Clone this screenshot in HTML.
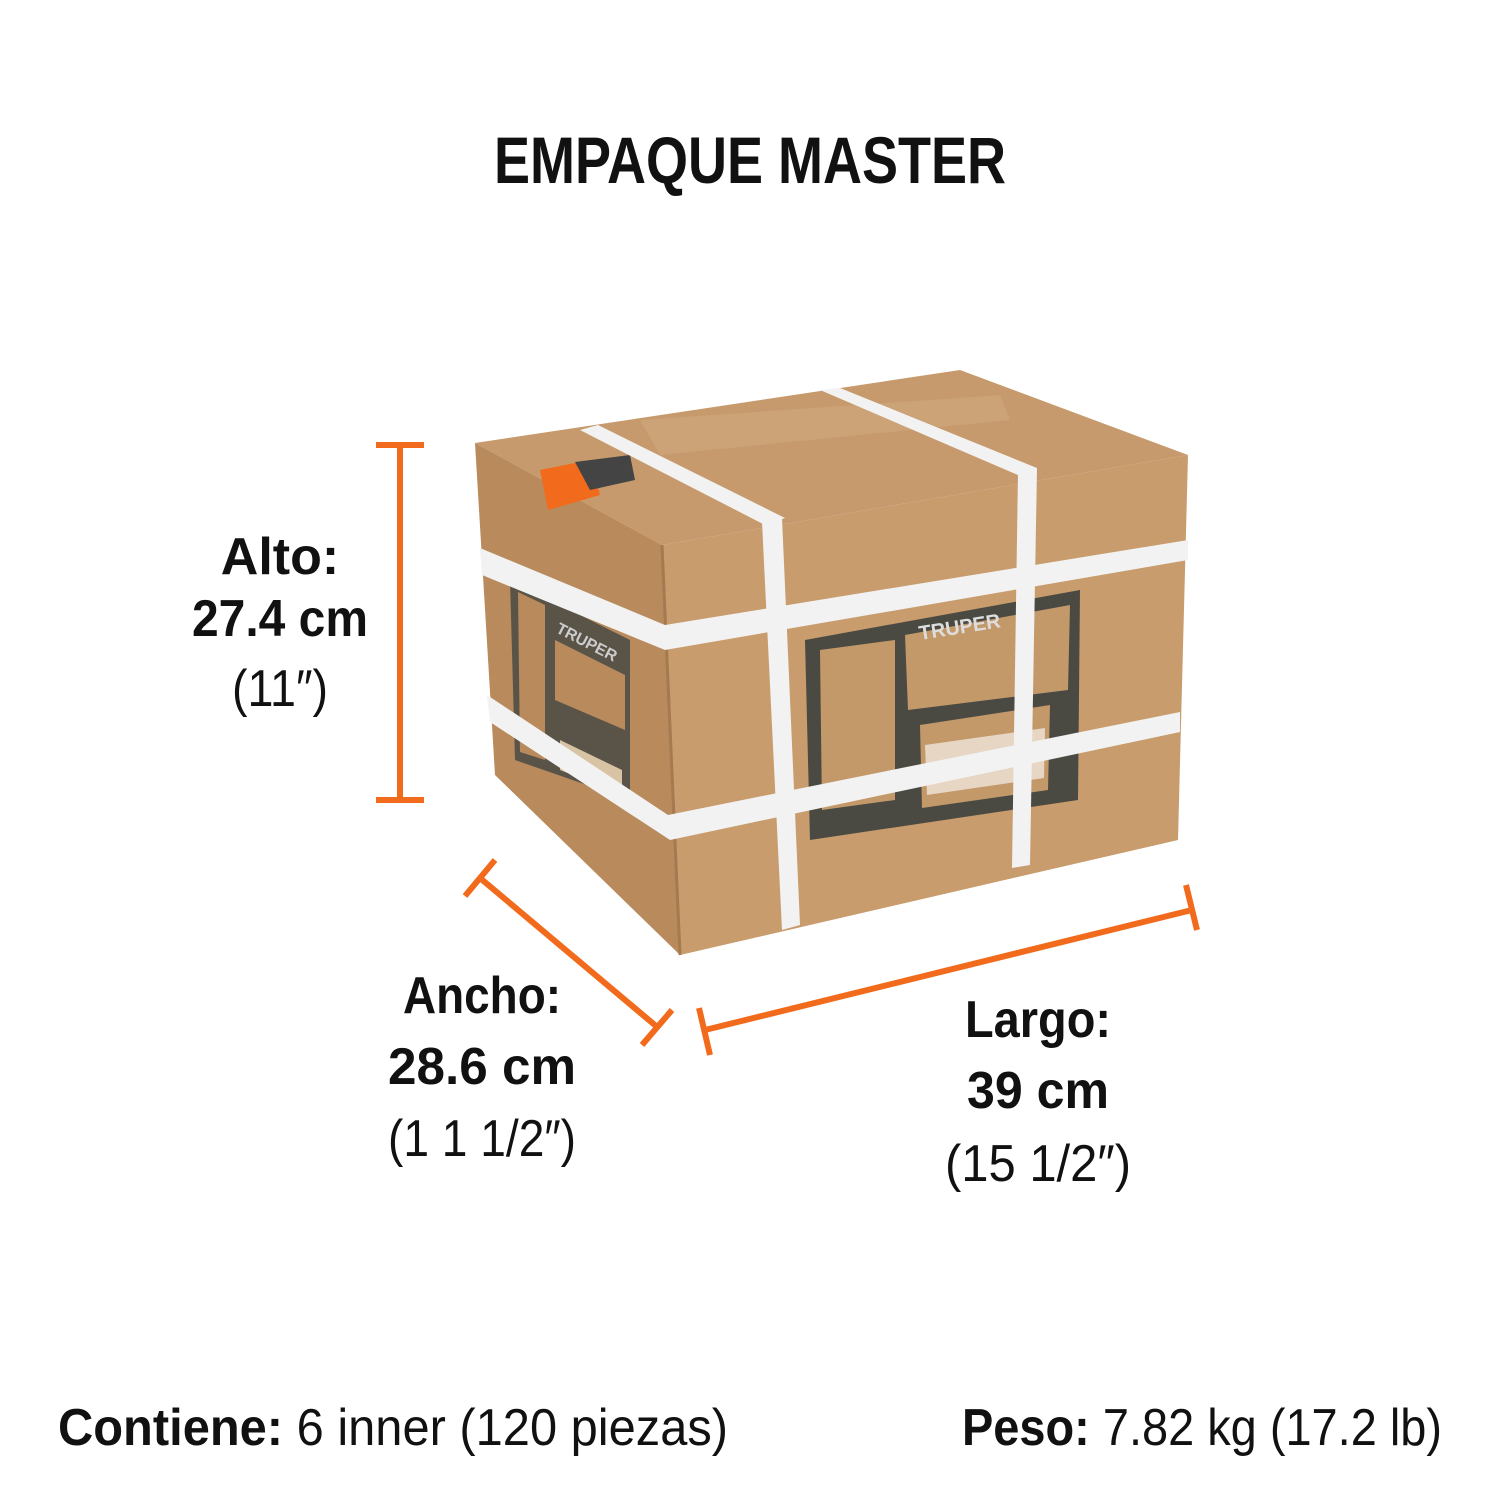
<!DOCTYPE html>
<html><head><meta charset="utf-8"><style>html,body{margin:0;padding:0;background:#fff}svg{display:block}</style></head><body>
<svg width="1500" height="1500" viewBox="0 0 1500 1500" xmlns="http://www.w3.org/2000/svg" font-family="'Liberation Sans Narrow','Liberation Sans',sans-serif">
<rect width="1500" height="1500" fill="#fff"/>
<text x="750" y="183" text-anchor="middle" font-size="66" font-weight="bold" textLength="512" lengthAdjust="spacingAndGlyphs" fill="#111">EMPAQUE MASTER</text>
<!-- box -->
<polygon points="475,443 960,370 1188,455 662,545" fill="#c69a6c"/>
<polygon points="662,545 1188,455 1178,840 680,955" fill="#c89c6c"/>
<polygon points="475,443 662,545 680,955 495,775" fill="#b88a5c"/>
<line x1="662" y1="545" x2="680" y2="955" stroke="#a57a50" stroke-width="3"/>
<polygon points="640,420 1000,395 1010,420 660,455" fill="#cda57a" opacity="0.8"/>
<!-- labels -->
<polygon points="805,640 1080,590 1078,800 810,840" fill="#4a4a42"/>
<polygon points="905,635 1070,605 1068,690 908,710" fill="#c3996a"/>
<polygon points="920,725 1050,705 1048,790 922,808" fill="#c3996a"/>
<polygon points="925,745 1045,728 1044,778 927,795" fill="#fff" opacity="0.6"/>
<polygon points="820,650 895,640 895,800 822,810" fill="#c3996a"/>
<text x="920" y="640" font-size="20" font-weight="bold" fill="#ddd" transform="rotate(-9 920 640)">TRUPER</text>
<polygon points="510,580 630,640 630,800 515,760" fill="#5a5448"/>
<polygon points="518,592 545,605 545,760 520,752" fill="#b88a5c"/>
<polygon points="555,640 625,675 625,730 555,700" fill="#b88a5c"/>
<polygon points="560,740 622,770 622,795 560,770" fill="#d9c3a5"/>
<text x="555" y="632" font-size="16" font-weight="bold" fill="#ccc" transform="rotate(27 555 632)">TRUPER</text>
<polygon points="540,470 590,460 600,495 548,510" fill="#f26a1b"/>
<polygon points="575,462 630,455 635,480 590,490" fill="#444"/>
<!-- straps -->
<g fill="#f2f2f2">
<polygon points="580,430 598,425 785,518 765,525"/>
<polygon points="820,390 840,388 1037,468 1018,475"/>
<polygon points="762,522 782,518 800,925 782,930"/>
<polygon points="1018,472 1037,468 1030,865 1012,868"/>
<polygon points="480,548 665,625 1188,540 1188,560 665,650 482,575"/>
<polygon points="487,695 668,815 1180,712 1180,732 670,840 490,722"/>
</g>
<!-- dimension lines -->
<g stroke="#f26a1b" stroke-width="6" fill="none">
<line x1="400" y1="445" x2="400" y2="800"/>
<line x1="376" y1="445" x2="424" y2="445"/>
<line x1="376" y1="800" x2="424" y2="800"/>
<line x1="480" y1="878" x2="656" y2="1026"/>
<line x1="465" y1="896" x2="495" y2="860"/>
<line x1="642" y1="1045" x2="672" y2="1010"/>
<line x1="705" y1="1030" x2="1192" y2="910"/>
<line x1="699" y1="1008" x2="710" y2="1055"/>
<line x1="1186" y1="885" x2="1197" y2="930"/>
</g>
<g font-size="52" fill="#111" text-anchor="middle">
<text x="280" y="574" font-weight="bold">Alto:</text>
<text x="280" y="636" font-weight="bold" textLength="176" lengthAdjust="spacingAndGlyphs">27.4 cm</text>
<text x="280" y="706" textLength="96" lengthAdjust="spacingAndGlyphs">(11″)</text>
<text x="482" y="1013" font-weight="bold" textLength="158" lengthAdjust="spacingAndGlyphs">Ancho:</text>
<text x="482" y="1084" font-weight="bold" textLength="188" lengthAdjust="spacingAndGlyphs">28.6 cm</text>
<text x="482" y="1156" textLength="188" lengthAdjust="spacingAndGlyphs">(1 1 1/2″)</text>
<text x="1038" y="1037" font-weight="bold" textLength="146" lengthAdjust="spacingAndGlyphs">Largo:</text>
<text x="1038" y="1108" font-weight="bold" textLength="142" lengthAdjust="spacingAndGlyphs">39 cm</text>
<text x="1038" y="1181" textLength="186" lengthAdjust="spacingAndGlyphs">(15 1/2″)</text>
</g>
<text x="58" y="1445" font-size="52" fill="#111" textLength="670" lengthAdjust="spacingAndGlyphs"><tspan font-weight="bold">Contiene:</tspan> 6 inner (120 piezas)</text>
<text x="962" y="1445" font-size="52" fill="#111" textLength="480" lengthAdjust="spacingAndGlyphs"><tspan font-weight="bold">Peso:</tspan> 7.82 kg (17.2 lb)</text>
</svg>
</body></html>
